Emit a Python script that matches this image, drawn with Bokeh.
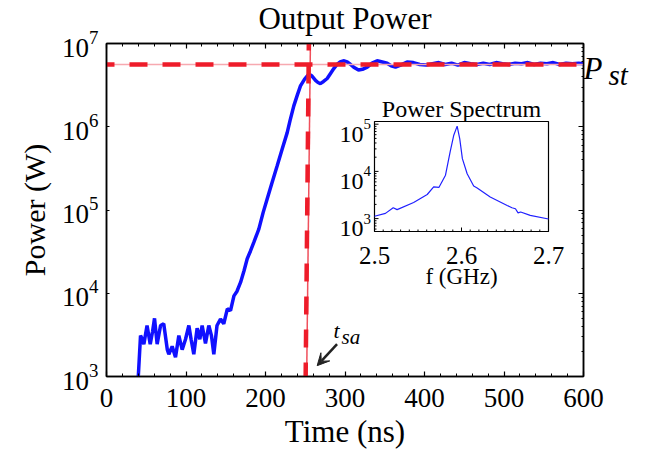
import math
from bokeh.plotting import figure
from bokeh.models import (Range1d, LinearAxis, LogAxis, LogTicker, SingleIntervalTicker,
                          FixedTicker, Arrow, VeeHead, CustomJSTickFormatter, LogScale)
from bokeh.core.properties import value
from bokeh.embed import file_html
from bokeh.resources import INLINE

FONT = "Liberation Serif"

# ---------------- data ----------------
time_ns = [40, 42.8, 45, 47, 51, 55, 58, 60.4, 63.7, 68, 72, 76.5, 78.4, 82.6, 86.8, 91,
           95.2, 99.4, 103.6, 106.4, 109.8, 114, 117.4, 120.3, 124.5, 128.7, 132, 135,
           139, 143.4, 147.5, 152, 156, 160.3, 164, 168.6, 173, 177, 181, 185.4, 191.6,
           197, 202, 208, 214.7, 221, 227.3, 231, 235.6, 240, 244, 249, 254.5, 258,
           262.9, 266, 269, 273, 277.6, 282, 285.9, 290, 294, 298, 302.8, 307, 311, 317,
           322, 328, 334, 340.5, 347, 353, 358, 363.5, 370, 378, 386, 394, 402, 410,
           418, 426, 434, 442, 450, 458, 466, 474, 482, 490, 498, 506, 514, 522, 530,
           538, 546, 554, 562, 570, 578, 586, 594, 600]
power_w = [1.0e3, 3.1e3, 2.8e3, 2.45e3, 4.1e3, 2.45e3, 3.5e3, 5.0e3, 2.45e3, 4.1e3, 4.3e3,
           2.1e3, 1.85e3, 2.3e3, 1.7e3, 3.1e3, 2.1e3, 2.8e3, 4.1e3, 2.8e3, 1.85e3, 3.8e3,
           2.8e3, 4.1e3, 2.5e3, 4.1e3, 3.1e3, 1.85e3, 4.1e3, 4.9e3, 4.3e3, 6.5e3, 6.2e3,
           9.3e3, 1.05e4, 1.35e4, 1.86e4, 2.6e4, 3.2e4, 4.1e4, 5.9e4, 9.3e4, 1.35e5,
           2.1e5, 3.4e5, 5.4e5, 8.5e5, 1.2e6, 1.78e6, 2.4e6, 3.1e6, 3.7e6, 4.3e6, 4.1e6,
           3.6e6, 3.4e6, 3.3e6, 3.5e6, 3.8e6, 4.4e6, 5.0e6, 5.6e6, 6.0e6, 6.2e6, 6.0e6,
           5.6e6, 5.2e6, 4.8e6, 4.9e6, 5.2e6, 5.8e6, 6.2e6, 6.0e6, 5.8e6, 5.4e6, 5.2e6,
           5.5e6, 6.0e6, 5.9e6, 5.6e6, 5.5e6, 5.7e6, 5.9e6, 5.6e6, 5.8e6, 5.5e6, 5.9e6,
           5.7e6, 5.6e6, 5.8e6, 5.6e6, 5.9e6, 5.7e6, 5.6e6, 5.8e6, 5.7e6, 5.9e6, 5.6e6,
           5.8e6, 5.7e6, 5.9e6, 5.6e6, 5.8e6, 5.7e6, 5.8e6, 5.7e6]

p_st = 5.6e6                    # steady-state power marker
t_sa_dash = [250.5, 254.5]      # saturation-time marker (dashed), bottom/top
t_sa_thin = [251.8, 256.5]      # saturation-time marker (thin), bottom/top
y_full = [1e3, 1e7]
t_full = [0, 600]

arrow_from = (290, 2450)
arrow_to = (265, 1350)
t_label = (285.5, 3590)
sa_label = (295.6, 2950)
p_label_y = 5.0e6
st_label_y = 4.15e6

freq_ghz = [2.500, 2.5126, 2.5215, 2.526, 2.545, 2.5606, 2.568, 2.574, 2.5816, 2.587,
            2.591, 2.595, 2.598, 2.601, 2.6065, 2.614, 2.618, 2.633, 2.6525, 2.658,
            2.662, 2.665, 2.668, 2.679, 2.700]
spectrum = [1120, 1290, 1700, 1550, 2190, 3240, 4680, 4570, 8300, 26300, 57500, 91000,
            49000, 18600, 8900, 4900, 4470, 2880, 1900, 1700, 1620, 1320, 1380, 1170, 980]

inset_x_ticks = [2.5, 2.6, 2.7]
inset_x_labels = ["2.5", "2.6", "2.7"]
inset_x_minor = [2.51, 2.52, 2.53, 2.54, 2.55, 2.56, 2.57, 2.58, 2.59,
                 2.61, 2.62, 2.63, 2.64, 2.65, 2.66, 2.67, 2.68, 2.69]
inset_y_ticks = [1e3, 1e4, 1e5]
inset_y_base = ["10", "10", "10"]
inset_y_exp = ["3", "4", "5"]
inset_y_minor = [600, 700, 800, 900, 2e3, 3e3, 4e3, 5e3, 6e3, 7e3, 8e3, 9e3,
                 2e4, 3e4, 4e4, 5e4, 6e4, 7e4, 8e4, 9e4]

# ---------------- geometry of the inset inside the main frame (px) ----------------
MAIN_L, MAIN_R, MAIN_T, MAIN_B = 106, 583, 45, 378
INS_L, INS_R, INS_T, INS_B = 374, 548, 123, 233
INS_DEC_PX = 47.2
INS_1E5_Y = 125.7
f_lo, f_hi = 2.5, 2.7
f_per_px = (f_hi - f_lo) / (INS_R - INS_L)
f_start = f_lo - (INS_L - MAIN_L) * f_per_px
f_end = f_hi + (MAIN_R - INS_R) * f_per_px
s_top = 10 ** (5 + (INS_1E5_Y - MAIN_T) / INS_DEC_PX)
s_bot = 10 ** (5 - (MAIN_B - INS_1E5_Y) / INS_DEC_PX)
ins_top = 10 ** (5 + (INS_1E5_Y - INS_T) / INS_DEC_PX)
ins_bot = 10 ** (5 - (INS_B - INS_1E5_Y) / INS_DEC_PX)

# ---------------- main figure ----------------
p = figure(frame_width=MAIN_R - MAIN_L, frame_height=MAIN_B - MAIN_T,
           x_range=Range1d(0, 600), y_range=Range1d(1e3, 1e7), y_axis_type="log",
           output_backend="svg", toolbar_location=None,
           min_border_left=MAIN_L, min_border_right=52, min_border_top=MAIN_T,
           min_border_bottom=74)
p.margin = (-10, 0, 0, 0)
p.grid.visible = False
p.outline_line_color = "black"
p.outline_line_width = 1.5
p.background_fill_color = "white"

p.title.text = "Output Power"
p.title.align = "center"
p.title.text_font = FONT
p.title.text_font_size = "31px"
p.title.text_font_style = "normal"
p.title.text_color = "black"
p.title.standoff = 16

xaxis_b = p.below[0]
yaxis_l = p.left[0]
xaxis_b.ticker = SingleIntervalTicker(interval=100, num_minor_ticks=5)
yaxis_l.ticker = LogTicker(num_minor_ticks=0)

xaxis_t = LinearAxis(ticker=SingleIntervalTicker(interval=100, num_minor_ticks=5),
                     formatter=CustomJSTickFormatter(code="return ''"), major_label_standoff=0)
yaxis_r = LogAxis(ticker=LogTicker(num_minor_ticks=10),
                  formatter=CustomJSTickFormatter(code="return ''"), major_label_standoff=0)
p.add_layout(xaxis_t, "above")
p.add_layout(yaxis_r, "right")

for ax in [xaxis_b, yaxis_l, xaxis_t, yaxis_r]:
    ax.axis_line_color = "black"
    ax.axis_line_width = 1.5
    ax.major_tick_line_color = "black"
    ax.minor_tick_line_color = "black"
    ax.major_tick_line_width = 1.2
    ax.minor_tick_line_width = 1
    ax.major_tick_in = 5
    ax.major_tick_out = 0
    ax.minor_tick_in = 3
    ax.minor_tick_out = 0
    ax.major_label_text_font = FONT
    ax.major_label_text_font_size = "27px"
    ax.major_label_text_color = "black"
    ax.axis_label_text_font = FONT
    ax.axis_label_text_font_style = "normal"
    ax.axis_label_text_font_size = "30px"
    ax.axis_label_text_color = "black"

yaxis_l.major_tick_in = 3
yaxis_l.minor_tick_in = 0
yaxis_l.major_label_standoff = 8
yaxis_l.axis_label = "Power (W)"
yaxis_l.axis_label_standoff = 8
xaxis_b.axis_label = "Time (ns)"
xaxis_b.major_label_standoff = 12
xaxis_b.axis_label_standoff = 4
xaxis_b.axis_label_text_font_size = "31px"
yaxis_r.minor_tick_in = 2

# "P" and "st" of P_st, set beside the right edge as tick labels of two label-only axes
for txt, yv, size, stand in [("P", p_label_y, "31px", -6), ("st", st_label_y, "29px", -3)]:
    ax = LogAxis(ticker=FixedTicker(ticks=[yv]),
                 formatter=CustomJSTickFormatter(code="return '%s'" % txt),
                 axis_line_color=None, major_tick_line_color=None, minor_tick_line_color=None,
                 major_label_standoff=stand, major_label_text_font=FONT,
                 major_label_text_font_style="italic", major_label_text_font_size=size,
                 major_label_text_color="black")
    p.add_layout(ax, "right")

p.line(time_ns, power_w, line_color="#1010ff", line_width=3.5)

p.line(t_full, [p_st, p_st], line_color="#f7a9b0", line_width=1.5)
p.line(t_sa_thin, y_full, line_color="#f0505c", line_width=1.5)
p.line(t_full, [p_st, p_st], line_color="#ee1c2a", line_width=4.5,
       line_dash="18 15", line_dash_offset=10)
p.line(t_sa_dash, y_full, line_color="#ee1c2a", line_width=4.5,
       line_dash="18 15", line_dash_offset=4)

p.add_layout(Arrow(end=VeeHead(size=12, fill_color="#222222", line_color="#222222"),
                   x_start=arrow_from[0], y_start=arrow_from[1],
                   x_end=arrow_to[0], y_end=arrow_to[1],
                   line_color="#222222", line_width=2.5))
p.text(x=[t_label[0]], y=[t_label[1]], text=["t"], text_font=value(FONT),
       text_font_style="italic", text_font_size=value("22px"), text_baseline="alphabetic",
       text_color="black")
p.text(x=[sa_label[0]], y=[sa_label[1]], text=["sa"], text_font=value(FONT),
       text_font_style="italic", text_font_size=value("21px"), text_baseline="alphabetic",
       text_color="black")

# ---------------- inset: power spectrum ----------------
p.extra_x_ranges = {"f": Range1d(f_start, f_end)}
p.extra_y_ranges = {"s": Range1d(s_bot, s_top)}
p.extra_y_scales = {"s": LogScale()}
kw = dict(x_range_name="f", y_range_name="s")

p.quad(left=[f_lo], right=[f_hi], bottom=[ins_bot], top=[ins_top], fill_color="white",
       line_color="black", line_width=1.2, **kw)
p.line(freq_ghz, spectrum, line_color="#2020ff", line_width=1.2, **kw)

p.ray(x=inset_x_ticks, y=[ins_bot] * len(inset_x_ticks), length=4, length_units="screen",
      angle=math.pi / 2, line_color="black", line_width=1, **kw)
p.ray(x=inset_x_minor, y=[ins_bot] * len(inset_x_minor), length=2, length_units="screen",
      angle=math.pi / 2, line_color="black", line_width=1, **kw)
p.ray(x=[f_lo] * len(inset_y_ticks), y=inset_y_ticks, length=4, length_units="screen",
      angle=0, line_color="black", line_width=1, **kw)
p.ray(x=[f_lo] * len(inset_y_minor), y=inset_y_minor, length=2, length_units="screen",
      angle=0, line_color="black", line_width=1, **kw)

p.text(x=inset_x_ticks, y=[ins_bot] * len(inset_x_ticks), text=inset_x_labels,
       text_font=value(FONT), text_font_size=value("25px"), text_align="center",
       text_baseline="alphabetic", y_offset=24, text_color="black", **kw)
p.text(x=[f_lo] * len(inset_y_ticks), y=inset_y_ticks, text=inset_y_base,
       text_font=value(FONT), text_font_size=value("24px"), text_align="right",
       text_baseline="alphabetic", x_offset=-11, y_offset=10, text_color="black", **kw)
p.text(x=[f_lo] * len(inset_y_ticks), y=inset_y_ticks, text=inset_y_exp,
       text_font=value(FONT), text_font_size=value("15px"), text_align="left",
       text_baseline="alphabetic", x_offset=-11, y_offset=0, text_color="black", **kw)
p.text(x=[(f_lo + f_hi) / 2], y=[ins_bot], text=["f (GHz)"], text_font=value(FONT),
       text_font_size=value("23px"), text_align="center", text_baseline="alphabetic",
       y_offset=45, text_color="black", **kw)
p.text(x=[(f_lo + f_hi) / 2], y=[ins_top], text=["Power Spectrum"], text_font=value(FONT),
       text_font_size=value("24px"), text_align="center", text_baseline="alphabetic",
       y_offset=-13, text_color="black", **kw)

open("out.html", "w").write(file_html(p, INLINE))
